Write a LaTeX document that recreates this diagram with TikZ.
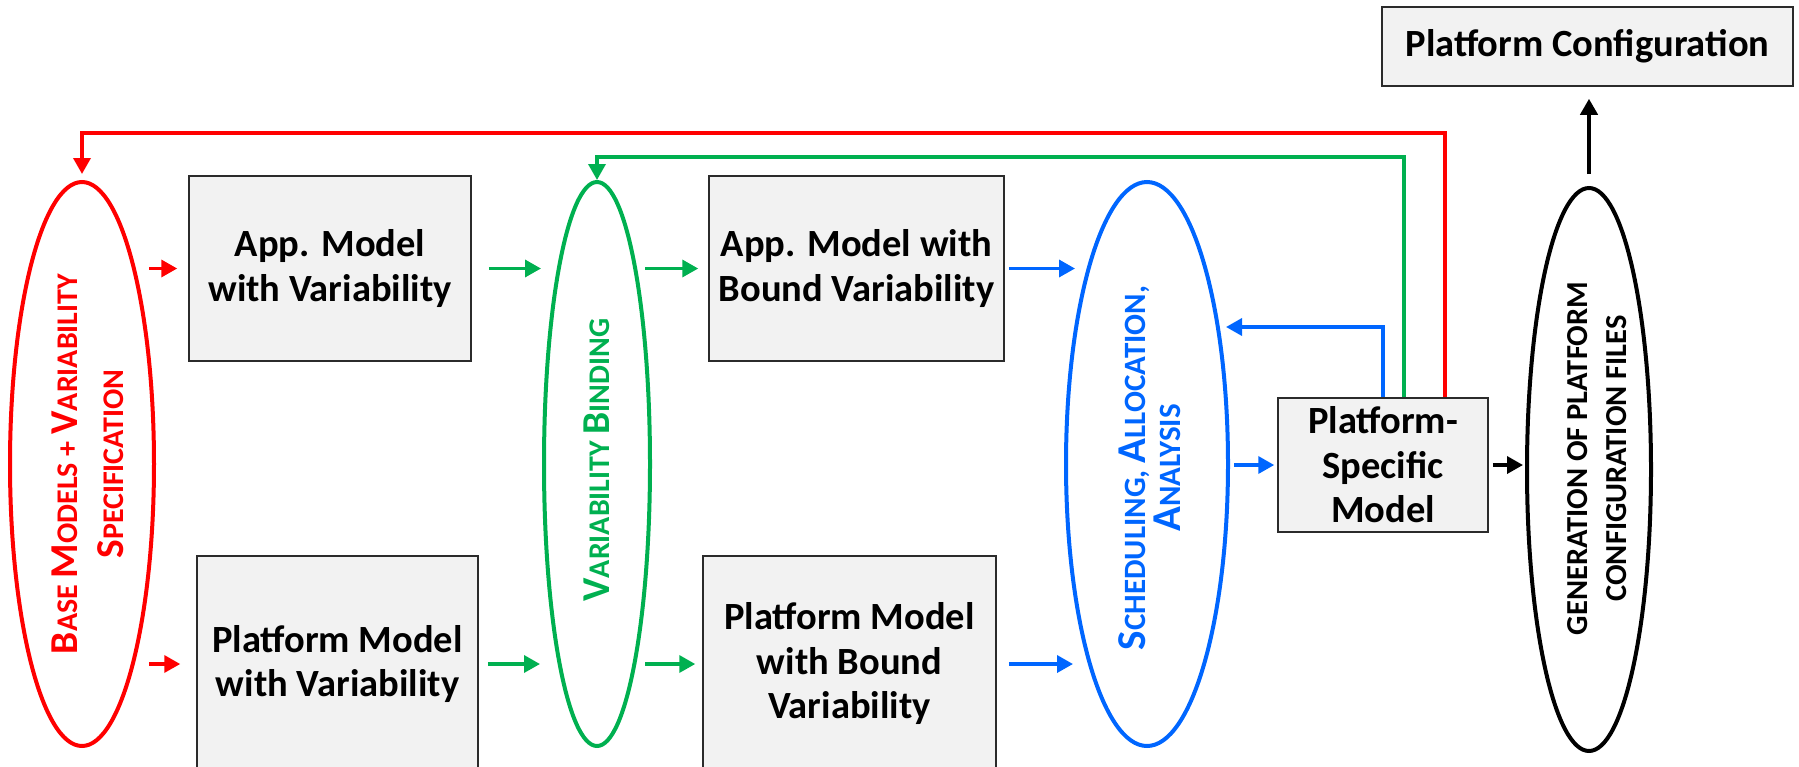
\documentclass[tikz,border=0pt]{standalone}
\usepackage{fontspec}
\setmainfont{Carlito}
\usetikzlibrary{shapes.geometric,arrows.meta}
\definecolor{cred}{HTML}{FF0000}
\definecolor{cgreen}{HTML}{00B050}
\definecolor{cblue}{HTML}{0066FF}
\definecolor{boxfill}{HTML}{F2F2F2}
\definecolor{boxline}{HTML}{2B2B2B}
\newcommand\BL[2][39.5]{{\fontsize{#1}{#1}\selectfont #2}}
\begin{document}
\begin{tikzpicture}[x=1pt,y=-1pt,
  box/.style={draw=boxline, fill=boxfill, line width=1.5pt, align=center, inner sep=0pt,
    font=\bfseries\fontsize{38.5}{44.5}\selectfont},
  ell/.style={ellipse, line width=4pt, inner sep=0pt},
  arr/.style={-{Triangle[length=16pt,width=17pt]}, line width=3.5pt},
  lab/.style={rotate=90, align=center, font=\bfseries\fontsize{30}{46}\selectfont}]
\useasboundingbox (0,0) rectangle (1799,766);
\clip (0,0) rectangle (1799,766);

% boxes
\node[box, minimum width=282pt, minimum height=185pt] (app) at (330,268.5) {App. Model\\with Variability};
\node[box, minimum width=281pt, minimum height=216pt] (plat) at (337.5,664) {Platform Model\\with Variability};
\node[box, minimum width=295pt, minimum height=185pt] (appb) at (856.5,268.5) {App. Model with\\Bound Variability};
\node[box, minimum width=293pt, minimum height=216pt] (platb) at (849.5,664) {Platform Model\\with Bound\\Variability};
\node[box, minimum width=210pt, minimum height=134pt] (ps) at (1383,465) {Platform-\\Specific\\Model};
\node[box, minimum width=411pt, minimum height=79pt] (pc) at (1587.5,46.5) {Platform Configuration};

% ellipses
\node[ell, draw=cred, minimum width=144pt, minimum height=564pt] (red) at (82,464) {};
\node[ell, draw=cgreen, minimum width=106pt, minimum height=564pt] (green) at (597,464) {};
\node[ell, draw=cblue, minimum width=162pt, minimum height=564pt] (blue) at (1147,464) {};
\node[ell, draw=black, minimum width=124pt, minimum height=563pt] (gen) at (1589,469.5) {};

% ellipse labels
\node[lab, text=cred] (redlab) at ([xshift=6pt]red.center)
  {\BL{B}ASE \BL{M}ODELS + \BL{V}ARIABILITY\\\BL{S}PECIFICATION};
\node[lab, text=cgreen] (greenlab) at ([yshift=4pt]green.center)
  {\BL{V}ARIABILITY \BL{B}INDING};
\node[lab, text=cblue, font=\bfseries\fontsize{31}{35}\selectfont] (bluelab) at ([xshift=3pt,yshift=-4pt]blue.center)
  {\BL[41]{S}CHEDULING, \BL[41]{A}LLOCATION,\\\BL[41]{A}NALYSIS};
\node[lab, text=black, font=\bfseries\fontsize{30.5}{39}\selectfont] (genlab) at ([xshift=8pt,yshift=11pt]gen.center)
  {GENERATION OF PLATFORM\\CONFIGURATION FILES};

% forward arrows, application row
\draw[arr, cred, shorten <=-7pt, shorten >=11pt] (red.east |- app.west) -- (app.west);
\draw[arr, cgreen, shorten <=17pt, shorten >=1pt] (app.east) -- (green.west |- app.east);
\draw[arr, cgreen, shorten <=-7pt, shorten >=10pt] (green.east |- appb.west) -- (appb.west);
\draw[arr, cblue, shorten <=4pt, shorten >=-11pt] (appb.east) -- (blue.west |- appb.east);
% forward arrows, platform row
\draw[arr, cred, shorten <=-7pt, shorten >=16pt] (red.east |- plat.west) -- (plat.west);
\draw[arr, cgreen, shorten <=9pt, shorten >=2pt] (plat.east) -- (green.west |- plat.east);
\draw[arr, cgreen, shorten <=-7pt, shorten >=7pt] (green.east |- platb.west) -- (platb.west);
\draw[arr, cblue, shorten <=12pt, shorten >=-9pt] (platb.east) -- (blue.west |- platb.east);
% middle
\draw[arr, cblue, shorten <=4pt, shorten >=3pt] (blue.east |- ps.west) -- (ps.west);
\draw[arr, black, shorten <=4pt, shorten >=2pt] (ps.east) -- (gen.west |- ps.east);
\draw[arr, black, line width=4pt, shorten <=12pt, shorten >=12pt] (gen.north) -- (gen.north |- pc.south);

% feedback loops
\draw[arr, cblue, shorten >=-4pt] (ps.north) |- ([yshift=137pt]blue.east);
\draw[arr, cgreen] ([xshift=21pt]ps.north) |- ([yshift=23pt]green.north) -- (green.north);
\draw[arr, cred, shorten >=6pt] ([xshift=62pt]ps.north) |- ([yshift=47pt]red.north) -- (red.north);
\end{tikzpicture}
\end{document}
